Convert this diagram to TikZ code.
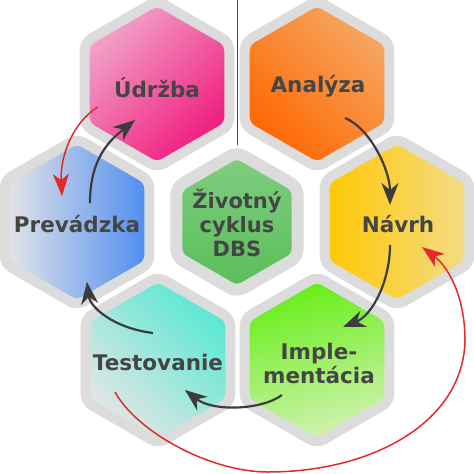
\documentclass[tikz,border=0pt]{standalone}
\usepackage{fontspec}
\setmainfont{DejaVu Sans}
\usetikzlibrary{shapes.geometric,arrows.meta}
\definecolor{rim}{HTML}{DCDCDC}
\definecolor{txt}{HTML}{454545}
\definecolor{arrowgray}{HTML}{3C3C3C}
\definecolor{backred}{HTML}{E52828}
\definecolor{pinklight}{HTML}{F2A6CA}
\definecolor{pinkdark}{HTML}{F0187C}
\definecolor{orangelight}{HTML}{F5A864}
\definecolor{orangedark}{HTML}{FF6600}
\definecolor{bluegray}{HTML}{E6E6E6}
\definecolor{blue}{HTML}{4C8CF0}
\definecolor{greenlight}{HTML}{80CE80}
\definecolor{greendark}{HTML}{58BE58}
\definecolor{yellowdark}{HTML}{FFC800}
\definecolor{yellowlight}{HTML}{F3DC8A}
\definecolor{turquoise}{HTML}{54E8D2}
\definecolor{limedark}{HTML}{64EE14}
\definecolor{limelight}{HTML}{D4F2B4}
\tikzset{
  hexcell/.style={regular polygon, regular polygon sides=6, shape border rotate=30,
    minimum size=167pt, inner sep=0pt, draw=rim, line width=10pt, rounded corners=8pt},
  caption/.style={font=\bfseries\fontsize{21.5}{24}\selectfont, text=txt, align=center, inner sep=0pt},
  forward/.style={draw=arrowgray, line width=2.2pt, -{Stealth[length=22pt,width=17pt,inset=7pt]}},
  backward/.style={draw=backred, line width=1.5pt, -{Stealth[length=22pt,width=16pt,inset=6pt]}}
}
\begin{document}
\begin{tikzpicture}[x=1pt,y=-1pt]
  \useasboundingbox (0,0) rectangle (474,474);
  % thin red line at the top
  \draw[backred!80!black, line width=0.7pt] (237,0) -- (237,145);

  \node[hexcell, top color=pinklight, bottom color=pinkdark, shading angle=45] (udr) at (157,84) {};
  \node[hexcell, top color=orangelight, bottom color=orangedark, shading angle=-45] (ana) at (317,84) {};
  \node[hexcell, left color=bluegray, right color=blue] (pre) at (77,222) {};
  \node[hexcell, minimum size=140pt, line width=12pt, top color=greenlight, bottom color=greendark] (dbs) at (237,222) {};
  \node[hexcell, left color=yellowdark, right color=yellowlight] (nav) at (397,222) {};
  \node[hexcell, top color=turquoise, bottom color=bluegray, shading angle=-45] (tes) at (158,360) {};
  \node[hexcell, top color=limedark, bottom color=limelight, shading angle=15] (imp) at (317,360) {};

  \node[caption] (udr-t) at (157,88) {Údržba};
  \node[caption] (ana-t) at (318,86) {Analýza};
  \node[caption] (pre-t) at (77,224) {Prevádzka};
  \node[caption, font=\bfseries\fontsize{21}{24}\selectfont] (dbs-t) at (237,223) {Životný\\cyklus\\DBS};
  \node[caption] (nav-t) at (398,224) {Návrh};
  \node[caption] (tes-t) at (158,362) {Testovanie};
  \node[caption] (imp-t) at (319,363) {Imple-\\mentácia};

  % the cycle
  \draw[forward] ([shift={(28,34)}]ana.center) .. controls +(25,10) and +(0,-35) .. ([shift={(-7,-17)}]nav.center);
  \draw[forward] ([shift={(-7,23)}]nav.center) .. controls +(0,35) and +(30,-12) .. ([shift={(26,-33)}]imp.center);
  \draw[forward] ([shift={(-35,35)}]imp.center) .. controls +(-20,15) and +(28,22) .. ([shift={(27,30)}]tes.center);
  \draw[forward] ([shift={(-5,-27)}]tes.center) .. controls +(-40,-5) and +(3,25) .. ([shift={(10,60)}]pre.center);
  \draw[forward] ([shift={(13,-19)}]pre.center) .. controls +(0,-45) and +(-25,20) .. ([shift={(-22,36)}]udr.center);

  % going back
  \draw[backward] ([shift={(-59,23)}]udr.center) .. controls +(-25,15) and +(-2,-40) .. ([shift={(-15,-26)}]pre.center);
  \coordinate (loopbot) at (268,472);
  \coordinate (loopright) at (465,337);
  \draw[backward] ([shift={(-43,32)}]tes.center) .. controls (137,432) and (210,472) .. (loopbot)
    .. controls (375,472) and (466,420) .. (loopright)
    .. controls (464,292) and (446,265) .. ([shift={(25,25)}]nav.center);
\end{tikzpicture}
\end{document}
